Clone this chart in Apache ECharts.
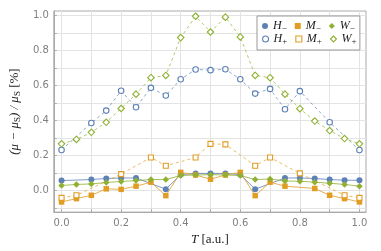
<!DOCTYPE html>
<html><head><meta charset="utf-8">
<script src="https://cdn.jsdelivr.net/npm/echarts@6/dist/echarts.min.js"></script>
<style>html,body{margin:0;padding:0;background:#fff}#c{width:381px;height:251px}</style>
</head><body><div id="c"></div>
<script>
// ---- data ----
const tHm = [0,0.1,0.15,0.2,0.25,0.35,0.4,0.45,0.5,0.55,0.6,0.65,0.75,0.8,0.85,0.9,0.95,1.0];
const hMinus = [0.056,0.062,0.068,0.071,0.071,0.007,0.090,0.097,0.097,0.097,0.090,0.007,0.071,0.071,0.068,0.062,0.058,0.058];
const tHp = [0,0.1,0.15,0.2,0.25,0.3,0.35,0.4,0.45,0.5,0.55,0.6,0.65,0.7,0.75,0.8,0.9,1.0];
const hPlus = [0.231,0.385,0.456,0.569,0.475,0.586,0.542,0.635,0.691,0.687,0.692,0.635,0.553,0.580,0.464,0.567,0.389,0.231];
const tMm = [0,0.05,0.1,0.15,0.2,0.25,0.3,0.35,0.4,0.45,0.5,0.55,0.6,0.65,0.7,0.75,0.85,0.9,0.95,1.0];
const mMinus = [-0.066,-0.047,-0.028,0.009,0.006,0.024,0.047,-0.030,0.103,0.088,0.064,0.088,0.103,-0.030,0.047,0.024,0.011,-0.028,-0.047,-0.066];
const tMp = [0,0.05,0.2,0.3,0.35,0.45,0.5,0.55,0.65,0.7,0.8,0.95,1.0];
const mPlus = [-0.043,-0.028,0.093,0.188,0.141,0.188,0.266,0.263,0.141,0.188,0.097,-0.028,-0.043];
const tW = [0,0.05,0.1,0.15,0.2,0.25,0.3,0.35,0.4,0.45,0.5,0.55,0.6,0.65,0.7,0.75,0.8,0.85,0.9,0.95,1.0];
const wMinus = [0.028,0.034,0.037,0.045,0.051,0.056,0.062,0.062,0.085,0.088,0.090,0.088,0.085,0.062,0.065,0.054,0.052,0.047,0.041,0.034,0.024];
const wPlus = [0.266,0.291,0.332,0.389,0.468,0.550,0.644,0.657,0.873,0.995,0.905,0.990,0.877,0.657,0.644,0.550,0.467,0.396,0.342,0.296,0.266];
const xLabels = [0,0.2,0.4,0.6,0.8,1.0];
const yLabels = [0,0.2,0.4,0.6,0.8,1.0];
const xTicks = [0,0.1,0.2,0.3,0.4,0.5,0.6,0.7,0.8,0.9,1.0];
const yTicks = [-0.1,0,0.1,0.2,0.3,0.4,0.5,0.6,0.7,0.8,0.9,1.0];

const BLUE = '#5E81B5', ORANGE = '#E19C24', GREEN = '#8FB032';
const zip = (xs, ys) => xs.map((x, i) => [x, ys[i]]);

function mk(name, xs, ys, color, symbol, filled, dashed, size) {
  return {
    name, type: 'line', data: zip(xs, ys),
    symbol, symbolSize: size, showSymbol: true,
    lineStyle: { color, width: 1, type: dashed ? [3, 3] : 'solid', opacity: dashed ? 0.7 : 0.8 },
    itemStyle: filled ? { color, borderWidth: 0 } : { color: '#fff', borderColor: color, borderWidth: 1.1 },
    emphasis: { disabled: true }, animation: false
  };
}
const series = [
  mk('H-', tHm, hMinus, BLUE, 'circle', true, false, 6),
  mk('M-', tMm, mMinus, ORANGE, 'rect', true, false, 5.5),
  mk('W-', tW, wMinus, GREEN, 'diamond', true, false, 6.5),
  mk('H+', tHp, hPlus, BLUE, 'circle', false, true, 5.5),
  mk('M+', tMp, mPlus, ORANGE, 'rect', false, true, 5),
  mk('W+', tW, wPlus, GREEN, 'diamond', false, true, 6.5)
];

const rich = {
  i: { fontFamily: 'Liberation Serif', fontStyle: 'italic', fontSize: 12, color: '#222', lineHeight: 12 },
  s: { fontFamily: 'Liberation Serif', fontSize: 9, color: '#222', lineHeight: 9, padding: [5, 0, 0, 0] }
};
function legendItem(name, shape, color, filled) {
  return { name, icon: shape,
    itemStyle: filled ? { color, borderWidth: 0 } : { color: '#fff', borderColor: color, borderWidth: 1.1 } };
}
const legFmt = n => '{i|' + n[0] + '}{s|' + (n[1] === '-' ? '\u2212' : '+') + '}';
const legCommon = {
  orient: 'horizontal', itemWidth: 6, itemHeight: 6, itemGap: 8,
  formatter: legFmt, textStyle: { rich, width: 14 }, selectedMode: false
};

const axisLabelStyle = { color: '#808080', fontSize: 10, fontFamily: 'DejaVu Sans' };

const option = {
  backgroundColor: '#fff',
  animation: false,
  grid: { left: 40, right: 15, top: 11, bottom: 36, show: true, borderColor: '#aaa', borderWidth: 1 },
  legend: [
    Object.assign({}, legCommon, {
      left: 257, top: 16, padding: [3, 5, 17, 5], borderColor: '#999', borderWidth: 1, backgroundColor: '#fff',
      data: [legendItem('H-', 'circle', BLUE, true), legendItem('M-', 'rect', ORANGE, true), legendItem('W-', 'diamond', GREEN, true)]
    }),
    Object.assign({}, legCommon, {
      left: 262, top: 32, padding: 0,
      data: [legendItem('H+', 'circle', BLUE, false), legendItem('M+', 'rect', ORANGE, false), legendItem('W+', 'diamond', GREEN, false)]
    })
  ],
  xAxis: {
    type: 'value', min: -0.026, max: 1.022,
    name: '{i|T} {r|[a.u.]}', nameLocation: 'middle', nameGap: 19,
    nameTextStyle: { rich: {
      i: { fontFamily: 'Liberation Serif', fontStyle: 'italic', fontSize: 13, color: '#222' },
      r: { fontFamily: 'Liberation Serif', fontSize: 13, color: '#222' } } },
    axisLine: { show: true, onZero: false, lineStyle: { color: '#aaa' } },
    axisTick: { show: true, inside: true, length: 3, customValues: xTicks, lineStyle: { color: '#aaa' } },
    axisLabel: Object.assign({ customValues: xLabels, margin: 6, formatter: v => v.toFixed(1) }, axisLabelStyle),
    splitLine: { show: true, lineStyle: { color: '#e3e3e3', width: 1 } }
  },
  yAxis: {
    type: 'value', min: -0.124, max: 1.025,
    name: '{a|(\u03bc \u2212 \u03bc}{s|S}{a|) / \u03bc}{s|S}{b| [%]}', nameLocation: 'middle', nameGap: 27, nameRotate: 90,
    nameTextStyle: { rich: {
      a: { fontFamily: 'Liberation Serif', fontStyle: 'italic', fontSize: 13, color: '#222', lineHeight: 13 },
      b: { fontFamily: 'Liberation Serif', fontSize: 13, color: '#222', lineHeight: 13 },
      s: { fontFamily: 'Liberation Serif', fontSize: 9, color: '#222', lineHeight: 9, padding: [5, 0, 0, 0] } } },
    axisLine: { show: true, onZero: false, lineStyle: { color: '#aaa' } },
    axisTick: { show: true, inside: true, length: 3, customValues: yTicks, lineStyle: { color: '#aaa' } },
    axisLabel: Object.assign({ customValues: yLabels, margin: 5, formatter: v => v.toFixed(1) }, axisLabelStyle),
    splitLine: { show: true, lineStyle: { color: '#e3e3e3', width: 1 } }
  },
  series
};
const chart = echarts.init(document.getElementById('c'), null, { renderer: 'canvas' });
chart.setOption(option);
</script></body></html>
